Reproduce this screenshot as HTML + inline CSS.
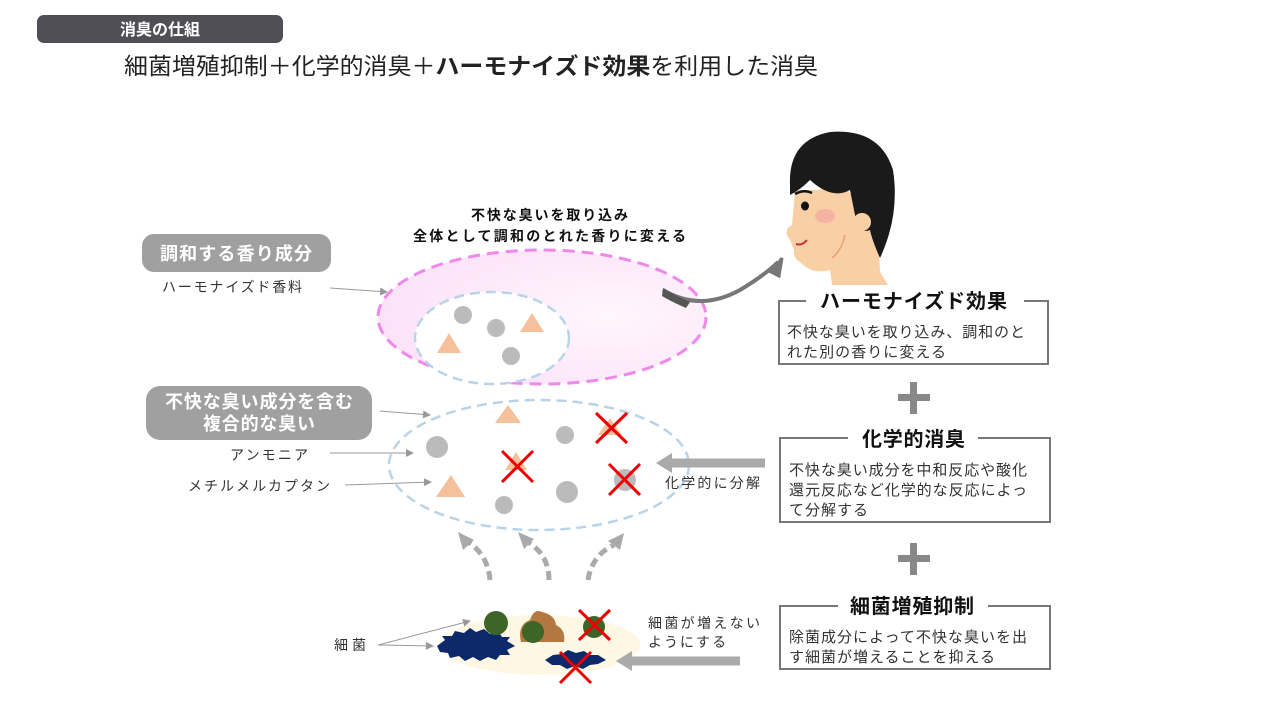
<!DOCTYPE html>
<html><head><meta charset="utf-8"><style>
html,body{margin:0;padding:0;background:#fff;}
svg{display:block;font-family:"Liberation Sans","Noto Sans CJK JP",sans-serif;}
</style></head><body>
<svg width="1280" height="720" viewBox="0 0 1280 720" xmlns="http://www.w3.org/2000/svg">
<defs>
<radialGradient id="pk" cx="0.7" cy="0.5" r="0.7"><stop offset="0" stop-color="#fff6fd"/><stop offset="1" stop-color="#fbe2f8"/></radialGradient>
<marker id="ah" markerWidth="8" markerHeight="8" refX="7" refY="4" orient="auto" markerUnits="userSpaceOnUse"><path d="M0,0 L8,4 L0,8z" fill="#999"/></marker>
</defs>
<rect x="37" y="15" width="246" height="28" rx="7" fill="#4f4f55"/>
<text x="160" y="35" font-size="16" font-weight="bold" fill="#fff" text-anchor="middle">消臭の仕組</text>
<text x="124" y="74" font-size="23" fill="#222" textLength="694" lengthAdjust="spacingAndGlyphs">細菌増殖抑制＋化学的消臭＋<tspan font-weight="bold">ハーモナイズド効果</tspan>を利用した消臭</text>

<text x="471" y="220" font-size="14" font-weight="bold" fill="#111" textLength="157">不快な臭いを取り込み</text>
<text x="413" y="241" font-size="14" font-weight="bold" fill="#111" textLength="273">全体として調和のとれた香りに変える</text>

<ellipse cx="542" cy="317" rx="164" ry="67" fill="url(#pk)" stroke="#ee88ea" stroke-width="3" stroke-dasharray="12,7"/>
<ellipse cx="492" cy="338" rx="77" ry="46" fill="#fff" stroke="#b9d3e8" stroke-width="2.5" stroke-dasharray="10,6"/>
<circle cx="463" cy="315" r="9" fill="#bbb"/><circle cx="496" cy="328" r="9" fill="#bbb"/><circle cx="511" cy="356" r="9" fill="#bbb"/>
<polygon points="532,313 520,332 544,332" fill="#f5c09c"/><polygon points="449,333 437,353 461,353" fill="#f5c09c"/>

<path d="M663,290 Q700,312 740,290 Q765,275 778,262" fill="none" stroke="#777" stroke-width="4"/>
<path d="M663,288 Q676,296 690,302 L686,308 Q672,302 662,296z" fill="#555"/>
<polygon points="771,272 782,258 779,276" fill="#777" stroke="#777" stroke-width="3"/>

<ellipse cx="539" cy="465" rx="150" ry="65" fill="#fff" stroke="#b9d3e8" stroke-width="2.5" stroke-dasharray="10,6"/>
<polygon points="508,405 495,423 521,423" fill="#f5c09c"/>
<circle cx="437" cy="447" r="11" fill="#bbb"/>
<polygon points="451,475 436,497 465,497" fill="#f5c09c"/>
<circle cx="565" cy="435" r="9" fill="#bbb"/>
<polygon points="610,418 598,435 622,435" fill="#f5c09c"/>
<polygon points="516,452 505,470 527,470" fill="#f5c09c"/>
<circle cx="567" cy="492" r="11" fill="#bbb"/>
<circle cx="504" cy="505" r="9" fill="#bbb"/>
<circle cx="625" cy="480" r="11" fill="#bbb"/>
<g stroke="#e00" stroke-width="3">
<line x1="596" y1="413" x2="627" y2="443"/><line x1="627" y1="413" x2="596" y2="443"/>
<line x1="502" y1="451" x2="533" y2="482"/><line x1="533" y1="451" x2="502" y2="482"/>
<line x1="609" y1="464" x2="640" y2="495"/><line x1="640" y1="464" x2="609" y2="495"/>
</g>

<rect x="142" y="234" width="189" height="38" rx="12" fill="#a0a0a0"/>
<text x="160" y="260" font-size="18" font-weight="bold" fill="#fff" textLength="152">調和する香り成分</text>
<text x="162" y="292" font-size="14" fill="#333" textLength="140">ハーモナイズド香料</text>
<line x1="330" y1="288" x2="387" y2="292" stroke="#999" stroke-width="1" marker-end="url(#ah)"/>
<rect x="146" y="386" width="226" height="54" rx="14" fill="#a0a0a0"/>
<text x="165" y="408" font-size="18" font-weight="bold" fill="#fff" textLength="188">不快な臭い成分を含む</text>
<text x="203" y="430" font-size="18" font-weight="bold" fill="#fff" textLength="112">複合的な臭い</text>
<line x1="380" y1="411" x2="430" y2="415" stroke="#999" stroke-width="1" marker-end="url(#ah)"/>
<text x="230" y="460" font-size="14" fill="#333" textLength="78">アンモニア</text>
<line x1="330" y1="453" x2="413" y2="453" stroke="#999" stroke-width="1" marker-end="url(#ah)"/>
<text x="188" y="491" font-size="14" fill="#333" textLength="142">メチルメルカプタン</text>
<line x1="345" y1="485" x2="431" y2="482" stroke="#999" stroke-width="1" marker-end="url(#ah)"/>

<line x1="765" y1="463" x2="670" y2="463" stroke="#aaa" stroke-width="9"/>
<polygon points="656,463 672,453 672,473" fill="#aaa"/>
<text x="665" y="488" font-size="14" fill="#333" textLength="95">化学的に分解</text>

<g fill="none" stroke="#aaa" stroke-width="5" stroke-dasharray="9,5">
<path d="M490,580 Q488,555 468,542"/>
<path d="M549,580 Q549,555 528,542"/>
<path d="M588,580 Q592,555 614,545"/>
</g>
<polygon points="458,532 474,540 463,550" fill="#aaa"/>
<polygon points="518,532 534,539 524,549" fill="#aaa"/>
<polygon points="624,533 620,550 608,541" fill="#aaa"/>

<ellipse cx="540" cy="645" rx="100" ry="30" fill="#fdf7e3"/>
<g fill="#0c2a6a">
<polygon points="437,646 445,640 442,636 452,636 455,631 464,633 470,628 476,632 484,629 490,634 498,631 502,637 510,637 507,641 515,646 507,650 510,655 500,655 496,660 488,657 480,661 473,657 465,661 459,656 450,658 448,653 440,652"/>
<polygon points="545,660 553,655 562,654 568,650 576,653 584,651 590,655 598,655 606,660 598,664 590,665 583,669 575,666 567,669 560,665 552,665"/>
</g>
<path d="M521,642 Q517,625 530,620 Q534,608 542,612 Q555,615 556,625 Q566,630 564,642z" fill="#b27840"/>
<g fill="#3e6428">
<circle cx="496" cy="623" r="12"/><circle cx="533" cy="632" r="11"/><circle cx="594" cy="627" r="11"/>
</g>
<g stroke="#e00" stroke-width="3">
<line x1="579" y1="610" x2="610" y2="640"/><line x1="610" y1="610" x2="579" y2="640"/>
<line x1="560" y1="652" x2="591" y2="683"/><line x1="591" y1="652" x2="560" y2="683"/>
</g>
<text x="334" y="650" font-size="14" fill="#333" textLength="32">細菌</text>
<line x1="378" y1="645" x2="470" y2="621" stroke="#999" stroke-width="1" marker-end="url(#ah)"/>
<line x1="378" y1="645" x2="433" y2="646" stroke="#999" stroke-width="1" marker-end="url(#ah)"/>
<line x1="740" y1="661" x2="630" y2="661" stroke="#aaa" stroke-width="9"/>
<polygon points="616,661 632,651 632,671" fill="#aaa"/>
<text x="648" y="628" font-size="14" fill="#333" textLength="112">細菌が増えない</text>
<text x="648" y="647" font-size="14" fill="#333" textLength="78">ようにする</text>

<path d="M818,190 L840,180 L878,230 L880,272 L888,285 L832,285 L830,270 Q812,275 800,262 Q793,258 794,250 L790,240 Q782,230 792,225 L795,190z" fill="#f9d0a6"/>
<path d="M790,185 Q788,140 830,132 Q880,128 893,170 Q900,215 880,258 Q872,240 870,230 Q858,235 855,215 L850,190 Q832,200 810,180 Q800,190 790,195z" fill="#1a1a1a"/>
<circle cx="862" cy="222" r="9" fill="#f9d0a6"/>
<ellipse cx="805" cy="206" rx="4" ry="4.5" fill="#111"/>
<path d="M795,194 Q804,189 812,193" stroke="#111" stroke-width="2.5" fill="none"/>
<ellipse cx="825" cy="216" rx="10" ry="7" fill="#f4a8a0" opacity="0.7"/>
<path d="M796,244 Q802,246 807,240" stroke="#c03040" stroke-width="2" fill="none"/>
<path d="M845,235 Q842,250 832,258" stroke="#e8a070" stroke-width="1.5" fill="none"/>

<g fill="#fff" stroke="#777" stroke-width="2">
<rect x="779" y="301" width="269" height="63"/>
<rect x="780" y="438" width="270" height="84"/>
<rect x="780" y="606" width="270" height="63"/>
</g>
<rect x="806" y="290" width="218" height="22" fill="#fff"/>
<text x="820" y="308" font-size="20" font-weight="bold" fill="#111" textLength="187">ハーモナイズド効果</text>
<text x="787" y="337" font-size="15" fill="#333" textLength="238">不快な臭いを取り込み、調和のと</text>
<text x="787" y="357" font-size="15" fill="#333" textLength="159">れた別の香りに変える</text>

<rect x="848" y="428" width="130" height="22" fill="#fff"/>
<text x="862" y="446" font-size="20" font-weight="bold" fill="#111" textLength="103">化学的消臭</text>
<text x="789" y="475" font-size="15" fill="#333" textLength="238">不快な臭い成分を中和反応や酸化</text>
<text x="789" y="495" font-size="15" fill="#333" textLength="238">還元反応など化学的な反応によっ</text>
<text x="789" y="515" font-size="15" fill="#333" textLength="79">て分解する</text>

<rect x="838" y="595" width="150" height="22" fill="#fff"/>
<text x="850" y="613" font-size="20" font-weight="bold" fill="#111" textLength="124">細菌増殖抑制</text>
<text x="789" y="642" font-size="15" fill="#333" textLength="238">除菌成分によって不快な臭いを出</text>
<text x="789" y="662" font-size="15" fill="#333" textLength="206">す細菌が増えることを抑える</text>

<g fill="#888">
<rect x="898" y="394" width="32" height="7"/><rect x="910" y="382" width="7" height="32"/>
<rect x="898" y="555" width="32" height="7"/><rect x="910" y="543" width="7" height="32"/>
</g>
</svg>
</body></html>
